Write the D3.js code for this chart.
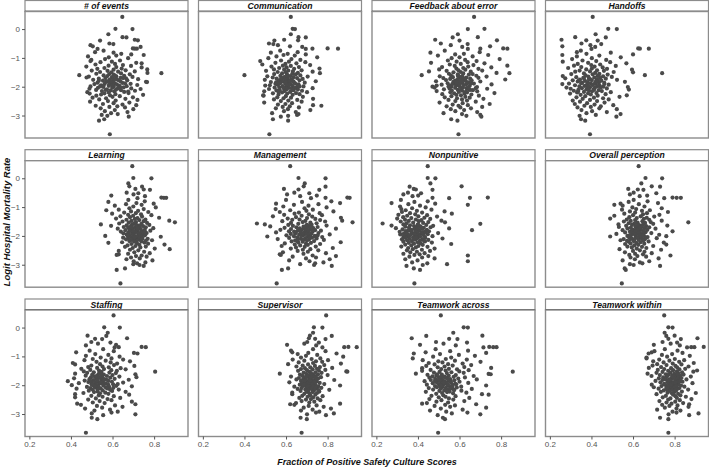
<!DOCTYPE html>
<html>
<head>
<meta charset="utf-8">
<script src="https://cdn.jsdelivr.net/npm/d3@7"></script>
<style>
html,body{margin:0;padding:0;background:#fff;}
svg{display:block;font-family:"Liberation Sans",Arial,sans-serif;}
</style>
</head>
<body>
<svg id="chart" width="709" height="467"></svg>
<script>
// ---------- DATA ----------
const panelNames = ["# of events","Communication","Feedback about error","Handoffs",
  "Learning","Management","Nonpunitive","Overall perception",
  "Staffing","Supervisor","Teamwork across","Teamwork within"];
const xTicks = [0.2, 0.4, 0.6, 0.8];
const yTicks = [0, -1, -2, -3];

// logit hospital mortality rate (shared by every panel)
const logitMortality = [
 0.42,0.01,0.00,-0.18,-0.28,-0.29,-0.37,-0.39,-0.40,-0.50,
 -0.52,-0.56,-0.60,-0.62,-0.67,-0.68,-0.68,-0.69,-0.75,-0.80,
 -0.82,-0.86,-0.88,-0.90,-0.92,-0.95,-0.98,-1.01,-1.04,-1.07,
 -1.09,-1.11,-1.13,-1.15,-1.17,-1.19,-1.21,-1.23,-1.25,-1.27,
 -1.28,-1.30,-1.32,-1.33,-1.35,-1.37,-1.38,-1.40,-1.41,-1.43,
 -1.44,-1.45,-1.47,-1.48,-1.49,-1.50,-1.52,-1.53,-1.54,-1.55,
 -1.56,-1.57,-1.58,-1.60,-1.61,-1.62,-1.63,-1.64,-1.65,-1.66,
 -1.67,-1.68,-1.69,-1.70,-1.71,-1.72,-1.73,-1.74,-1.75,-1.76,
 -1.77,-1.78,-1.79,-1.80,-1.81,-1.82,-1.83,-1.84,-1.85,-1.86,
 -1.87,-1.88,-1.89,-1.90,-1.91,-1.92,-1.93,-1.94,-1.95,-1.96,
 -1.97,-1.98,-1.99,-2.00,-2.01,-2.02,-2.03,-2.04,-2.05,-2.06,
 -2.07,-2.08,-2.09,-2.10,-2.11,-2.12,-2.13,-2.14,-2.15,-2.16,
 -2.18,-2.19,-2.20,-2.22,-2.23,-2.24,-2.26,-2.27,-2.28,-2.30,
 -2.31,-2.33,-2.35,-2.37,-2.38,-2.40,-2.42,-2.44,-2.46,-2.48,
 -2.50,-2.52,-2.55,-2.57,-2.60,-2.62,-2.64,-2.66,-2.68,-2.70,
 -2.72,-2.75,-2.78,-2.81,-2.85,-2.88,-2.92,-2.98,-3.01,-3.04,
 -3.13,-2.95,-3.18,-3.65,
 -1.74,-1.81,-1.88,-1.93,-1.97,-2.02,-1.79,-1.85,-2.05,-1.91,
 -1.70,-2.11,-1.62,-1.99,-2.17,-1.83];

// fraction of positive safety culture scores, one list per dimension
const xEvents = [
 0.647,0.614,0.696,0.580,0.648,0.667,0.707,0.722,0.540,0.585,
 0.604,0.494,0.505,0.735,0.698,0.707,0.717,0.528,0.557,0.516,
 0.605,0.642,0.690,0.750,0.618,0.482,0.582,0.675,0.564,0.498,
 0.636,0.494,0.597,0.542,0.714,0.740,0.612,0.518,0.650,0.581,
 0.689,0.474,0.618,0.740,0.561,0.644,0.527,0.767,0.605,0.663,
 0.500,0.576,0.707,0.627,0.540,0.594,0.768,0.835,0.641,0.522,
 0.584,0.683,0.606,0.440,0.557,0.656,0.575,0.618,0.486,0.696,
 0.597,0.475,0.639,0.566,0.665,0.534,0.605,0.723,0.587,0.507,
 0.627,0.671,0.554,0.602,0.638,0.570,0.761,0.766,0.590,0.528,
 0.647,0.611,0.563,0.687,0.513,0.621,0.594,0.719,0.545,0.632,
 0.582,0.668,0.494,0.606,0.555,0.654,0.599,0.530,0.627,0.690,
 0.489,0.735,0.573,0.617,0.521,0.641,0.591,0.708,0.549,0.608,
 0.656,0.479,0.582,0.677,0.561,0.490,0.614,0.545,0.747,0.588,
 0.522,0.635,0.600,0.698,0.504,0.569,0.662,0.536,0.720,0.615,
 0.578,0.492,0.681,0.605,0.554,0.648,0.714,0.519,0.623,0.585,
 0.660,0.543,0.700,0.611,0.563,0.672,0.593,0.548,0.575,0.678,
 0.560,0.625,0.535,0.587,
 0.618,0.575,0.660,0.596,0.557,0.638,0.534,0.605,0.627,0.584,
 0.651,0.567,0.612,0.540,0.675,0.593];
const xCommunication = [
 0.623,0.632,0.643,0.623,0.660,0.695,0.591,0.658,0.544,0.518,
 0.539,0.561,0.619,0.678,0.800,0.850,0.727,0.695,0.572,0.656,
 0.527,0.608,0.695,0.588,0.642,0.554,0.750,0.515,0.626,0.669,
 0.576,0.476,0.614,0.693,0.549,0.650,0.597,0.486,0.716,0.585,
 0.623,0.530,0.662,0.603,0.567,0.761,0.639,0.542,0.591,0.675,
 0.611,0.504,0.633,0.728,0.560,0.599,0.657,0.763,0.581,0.630,
 0.543,0.647,0.605,0.400,0.669,0.573,0.621,0.510,0.704,0.594,
 0.636,0.536,0.587,0.653,0.608,0.555,0.680,0.576,0.627,0.498,
 0.602,0.665,0.564,0.618,0.743,0.582,0.636,0.527,0.611,0.690,
 0.573,0.644,0.596,0.549,0.623,0.660,0.560,0.609,0.522,0.500,
 0.632,0.584,0.684,0.602,0.567,0.650,0.545,0.615,0.728,0.590,
 0.629,0.518,0.603,0.657,0.570,0.636,0.554,0.677,0.593,0.495,
 0.620,0.701,0.581,0.648,0.537,0.606,0.665,0.564,0.632,0.490,
 0.492,0.599,0.681,0.558,0.624,0.588,0.730,0.542,0.654,0.611,
 0.575,0.675,0.495,0.629,0.597,0.561,0.730,0.770,0.618,0.584,
 0.662,0.551,0.609,0.717,0.590,0.647,0.533,0.653,0.610,0.575,
 0.537,0.660,0.610,0.520,
 0.597,0.635,0.569,0.615,0.656,0.587,0.621,0.552,0.641,0.603,
 0.578,0.630,0.609,0.665,0.564,0.597];
const xFeedback = [
 0.670,0.720,0.640,0.592,0.688,0.567,0.483,0.780,0.600,0.510,
 0.639,0.558,0.747,0.613,0.810,0.830,0.700,0.640,0.529,0.697,
 0.460,0.621,0.579,0.738,0.496,0.663,0.600,0.562,0.793,0.627,
 0.544,0.682,0.586,0.639,0.463,0.720,0.606,0.553,0.667,0.830,
 0.577,0.642,0.516,0.753,0.618,0.585,0.691,0.502,0.628,0.595,
 0.709,0.538,0.453,0.654,0.606,0.571,0.778,0.840,0.618,0.549,
 0.663,0.592,0.645,0.418,0.559,0.681,0.613,0.505,0.730,0.600,
 0.568,0.633,0.691,0.522,0.609,0.651,0.555,0.592,0.820,0.619,
 0.535,0.658,0.580,0.630,0.487,0.700,0.606,0.570,0.642,0.589,
 0.613,0.543,0.669,0.576,0.633,0.754,0.514,0.621,0.586,0.490,
 0.649,0.600,0.561,0.470,0.684,0.616,0.480,0.579,0.633,0.552,
 0.733,0.607,0.525,0.646,0.592,0.664,0.563,0.613,0.490,0.685,
 0.597,0.556,0.636,0.768,0.574,0.624,0.517,0.657,0.585,0.607,
 0.693,0.561,0.628,0.529,0.649,0.588,0.715,0.612,0.547,0.636,
 0.580,0.678,0.504,0.615,0.745,0.567,0.640,0.595,0.538,0.709,
 0.604,0.655,0.558,0.622,0.580,0.685,0.523,0.700,0.633,0.705,
 0.560,0.612,0.590,0.595,
 0.625,0.574,0.657,0.600,0.553,0.642,0.609,0.586,0.678,0.565,
 0.618,0.651,0.592,0.547,0.631,0.604];
const xHandoffs = [
 0.406,0.481,0.522,0.420,0.322,0.469,0.256,0.375,0.430,0.352,
 0.447,0.395,0.260,0.418,0.625,0.633,0.676,0.400,0.349,0.330,
 0.493,0.376,0.600,0.260,0.438,0.330,0.541,0.402,0.307,0.471,
 0.357,0.423,0.262,0.490,0.384,0.568,0.334,0.442,0.399,0.316,
 0.517,0.415,0.351,0.454,0.288,0.402,0.475,0.375,0.595,0.427,
 0.343,0.460,0.393,0.322,0.507,0.600,0.418,0.740,0.364,0.438,
 0.303,0.406,0.478,0.657,0.372,0.430,0.262,0.456,0.385,0.498,
 0.327,0.414,0.361,0.442,0.274,0.469,0.388,0.427,0.345,0.523,
 0.402,0.310,0.448,0.369,0.423,0.334,0.561,0.382,0.436,0.355,
 0.462,0.396,0.292,0.420,0.260,0.379,0.483,0.406,0.321,0.439,
 0.367,0.429,0.342,0.457,0.575,0.393,0.280,0.417,0.354,0.474,
 0.300,0.411,0.376,0.580,0.337,0.435,0.388,0.315,0.450,0.403,
 0.364,0.493,0.331,0.424,0.384,0.297,0.468,0.397,0.348,0.570,
 0.430,0.370,0.535,0.328,0.412,0.456,0.358,0.483,0.393,0.310,
 0.427,0.345,0.463,0.379,0.320,0.415,0.505,0.366,0.445,0.397,
 0.333,0.438,0.522,0.352,0.403,0.474,0.376,0.421,0.343,0.520,
 0.350,0.540,0.370,0.393,
 0.393,0.432,0.351,0.406,0.375,0.445,0.339,0.418,0.384,0.462,
 0.364,0.412,0.435,0.388,0.336,0.423];
const xLearning = [
 0.695,0.700,0.787,0.676,0.681,0.742,0.710,0.750,0.780,0.668,
 0.724,0.701,0.594,0.756,0.835,0.847,0.858,0.720,0.676,0.755,
 0.580,0.715,0.798,0.665,0.740,0.611,0.700,0.808,0.681,0.750,
 0.630,0.570,0.723,0.689,0.772,0.656,0.712,0.598,0.737,0.675,
 0.787,0.699,0.638,0.742,0.684,0.824,0.720,0.617,0.707,0.758,
 0.667,0.729,0.873,0.691,0.750,0.648,0.713,0.900,0.678,0.766,
 0.704,0.632,0.739,0.544,0.694,0.777,0.668,0.724,0.593,0.747,
 0.688,0.731,0.654,0.760,0.708,0.675,0.796,0.697,0.625,0.736,
 0.716,0.683,0.755,0.662,0.721,0.782,0.692,0.742,0.640,0.712,
 0.737,0.678,0.705,0.764,0.652,0.723,0.694,0.747,0.668,0.726,
 0.702,0.756,0.680,0.565,0.734,0.713,0.832,0.689,0.720,0.651,
 0.744,0.699,0.675,0.769,0.710,0.665,0.729,0.692,0.790,0.716,
 0.681,0.739,0.704,0.646,0.753,0.580,0.718,0.771,0.691,0.850,
 0.729,0.672,0.710,0.760,0.660,0.734,0.697,0.803,0.875,0.684,
 0.724,0.630,0.752,0.705,0.779,0.675,0.630,0.620,0.740,0.713,
 0.764,0.689,0.731,0.667,0.792,0.702,0.758,0.700,0.730,0.750,
 0.660,0.718,0.620,0.638,
 0.720,0.696,0.745,0.676,0.732,0.710,0.686,0.755,0.705,0.728,
 0.691,0.742,0.713,0.672,0.760,0.700];
const xManagement = [
 0.620,0.660,0.790,0.690,0.685,0.790,0.590,0.660,0.760,0.640,
 0.712,0.605,0.748,0.668,0.895,0.906,0.790,0.720,0.600,0.818,
 0.677,0.860,0.552,0.756,0.638,0.708,0.587,0.795,0.689,0.550,
 0.729,0.620,0.698,0.828,0.570,0.662,0.762,0.641,0.710,0.591,
 0.773,0.675,0.537,0.726,0.648,0.864,0.701,0.608,0.741,0.665,
 0.630,0.764,0.870,0.693,0.582,0.788,0.680,0.920,0.717,0.624,
 0.747,0.460,0.659,0.498,0.723,0.611,0.698,0.795,0.633,0.711,
 0.524,0.684,0.752,0.650,0.702,0.593,0.731,0.666,0.840,0.624,
 0.716,0.677,0.573,0.740,0.657,0.768,0.695,0.614,0.728,0.669,
 0.705,0.552,0.687,0.756,0.645,0.722,0.623,0.690,0.810,0.663,
 0.716,0.602,0.681,0.738,0.638,0.510,0.704,0.774,0.654,0.725,
 0.615,0.693,0.747,0.672,0.560,0.711,0.686,0.782,0.644,0.701,
 0.735,0.627,0.680,0.863,0.659,0.720,0.594,0.696,0.764,0.642,
 0.705,0.668,0.579,0.743,0.690,0.648,0.825,0.623,0.717,0.681,
 0.755,0.656,0.705,0.585,0.792,0.684,0.570,0.575,0.728,0.840,
 0.632,0.744,0.696,0.810,0.615,0.713,0.780,0.668,0.735,0.820,
 0.610,0.740,0.580,0.555,
 0.687,0.726,0.647,0.704,0.671,0.738,0.696,0.639,0.714,0.680,
 0.723,0.660,0.701,0.752,0.650,0.707];
const xNonpunitive = [
 0.447,0.447,0.484,0.460,0.610,0.360,0.380,0.390,0.470,0.352,
 0.415,0.330,0.401,0.374,0.736,0.650,0.470,0.550,0.318,0.447,
 0.383,0.273,0.483,0.354,0.640,0.410,0.314,0.437,0.372,0.320,
 0.465,0.341,0.395,0.528,0.323,0.420,0.362,0.563,0.387,0.306,
 0.444,0.348,0.402,0.492,0.329,0.431,0.368,0.300,0.459,0.390,
 0.338,0.417,0.513,0.356,0.404,0.317,0.450,0.530,0.377,0.425,
 0.345,0.230,0.700,0.330,0.399,0.440,0.362,0.273,0.473,0.381,
 0.411,0.339,0.393,0.461,0.357,0.428,0.294,0.550,0.384,0.420,
 0.326,0.401,0.443,0.660,0.365,0.407,0.342,0.453,0.390,0.312,
 0.432,0.369,0.398,0.497,0.333,0.416,0.380,0.447,0.315,0.404,
 0.363,0.428,0.338,0.390,0.470,0.354,0.408,0.330,0.377,0.435,
 0.341,0.396,0.518,0.359,0.422,0.323,0.387,0.450,0.348,0.410,
 0.371,0.434,0.330,0.399,0.467,0.356,0.413,0.381,0.560,0.339,
 0.423,0.368,0.402,0.320,0.446,0.390,0.353,0.480,0.375,0.419,
 0.347,0.458,0.395,0.363,0.432,0.330,0.408,0.383,0.640,0.450,
 0.359,0.420,0.480,0.339,0.398,0.640,0.372,0.540,0.423,0.345,
 0.380,0.445,0.410,0.383,
 0.396,0.354,0.422,0.383,0.333,0.410,0.369,0.435,0.392,0.347,
 0.416,0.378,0.402,0.359,0.429,0.387];
const xOverall = [
 0.627,0.660,0.740,0.640,0.690,0.730,0.577,0.623,0.650,0.603,
 0.712,0.585,0.668,0.632,0.790,0.810,0.830,0.750,0.603,0.670,
 0.579,0.720,0.540,0.628,0.510,0.550,0.655,0.597,0.738,0.615,
 0.547,0.681,0.643,0.585,0.768,0.610,0.667,0.558,0.648,0.727,
 0.600,0.510,0.637,0.702,0.582,0.666,0.618,0.490,0.652,0.570,
 0.678,0.610,0.738,0.589,0.645,0.556,0.685,0.866,0.622,0.658,
 0.579,0.606,0.697,0.530,0.648,0.595,0.631,0.765,0.567,0.663,
 0.612,0.642,0.532,0.678,0.624,0.589,0.655,0.573,0.708,0.615,
 0.637,0.598,0.669,0.550,0.627,0.606,0.648,0.790,0.585,0.619,
 0.660,0.562,0.633,0.688,0.601,0.625,0.520,0.646,0.609,0.726,
 0.591,0.630,0.652,0.573,0.760,0.490,0.613,0.670,0.634,0.582,
 0.621,0.714,0.595,0.643,0.555,0.657,0.607,0.628,0.540,0.649,
 0.603,0.675,0.579,0.636,0.748,0.616,0.588,0.654,0.562,0.760,
 0.625,0.606,0.697,0.573,0.643,0.594,0.664,0.618,0.535,0.735,
 0.633,0.600,0.655,0.561,0.690,0.610,0.648,0.582,0.780,0.621,
 0.663,0.588,0.723,0.609,0.550,0.678,0.633,0.585,0.603,0.730,
 0.560,0.645,0.565,0.546,
 0.628,0.601,0.651,0.615,0.585,0.640,0.619,0.594,0.660,0.607,
 0.634,0.588,0.624,0.648,0.571,0.613];
const xStaffing = [
 0.605,0.560,0.635,0.577,0.480,0.570,0.670,0.516,0.550,0.498,
 0.590,0.530,0.617,0.472,0.740,0.760,0.630,0.610,0.555,0.490,
 0.606,0.425,0.703,0.720,0.517,0.580,0.472,0.634,0.543,0.595,
 0.505,0.651,0.465,0.567,0.684,0.523,0.591,0.409,0.622,0.540,
 0.420,0.607,0.498,0.705,0.552,0.483,0.582,0.526,0.639,0.450,
 0.559,0.663,0.493,0.594,0.535,0.621,0.462,0.805,0.547,0.510,
 0.585,0.478,0.616,0.420,0.534,0.710,0.558,0.502,0.600,0.528,
 0.471,0.573,0.514,0.633,0.550,0.715,0.496,0.589,0.540,0.415,
 0.522,0.610,0.489,0.561,0.678,0.508,0.547,0.466,0.580,0.385,
 0.528,0.597,0.484,0.555,0.651,0.516,0.438,0.568,0.537,0.625,
 0.499,0.579,0.523,0.404,0.556,0.618,0.510,0.693,0.532,0.477,
 0.567,0.519,0.604,0.493,0.543,0.427,0.586,0.529,0.630,0.505,
 0.553,0.486,0.598,0.528,0.663,0.511,0.565,0.460,0.540,0.580,
 0.420,0.680,0.534,0.498,0.606,0.552,0.420,0.637,0.520,0.576,
 0.483,0.595,0.538,0.693,0.505,0.562,0.430,0.710,0.448,0.612,
 0.525,0.648,0.550,0.468,0.588,0.513,0.625,0.500,0.710,0.555,
 0.500,0.595,0.527,0.472,
 0.532,0.571,0.501,0.549,0.603,0.514,0.558,0.492,0.583,0.541,
 0.520,0.574,0.544,0.504,0.591,0.526];
const xSupervisor = [
 0.793,0.734,0.775,0.730,0.715,0.820,0.710,0.740,0.790,0.702,
 0.758,0.688,0.605,0.745,0.900,0.940,0.880,0.775,0.730,0.624,
 0.790,0.630,0.707,0.843,0.656,0.750,0.696,0.875,0.672,0.765,
 0.723,0.632,0.802,0.688,0.744,0.774,0.661,0.730,0.864,0.610,
 0.706,0.784,0.680,0.739,0.650,0.763,0.717,0.822,0.691,0.749,
 0.672,0.728,0.789,0.701,0.758,0.658,0.890,0.895,0.714,0.741,
 0.685,0.771,0.720,0.570,0.698,0.754,0.667,0.730,0.800,0.709,
 0.678,0.744,0.702,0.624,0.733,0.768,0.690,0.718,0.662,0.755,
 0.712,0.683,0.741,0.650,0.723,0.832,0.696,0.736,0.672,0.714,
 0.747,0.688,0.726,0.616,0.706,0.762,0.677,0.734,0.701,0.784,
 0.715,0.666,0.742,0.693,0.860,0.722,0.680,0.755,0.640,0.710,
 0.733,0.698,0.770,0.675,0.717,0.746,0.656,0.725,0.693,0.808,
 0.707,0.734,0.670,0.760,0.699,0.728,0.630,0.749,0.712,0.688,
 0.630,0.741,0.717,0.678,0.776,0.704,0.731,0.664,0.752,0.720,
 0.696,0.765,0.675,0.736,0.712,0.648,0.860,0.620,0.640,0.747,
 0.709,0.781,0.685,0.816,0.728,0.672,0.760,0.830,0.701,0.792,
 0.670,0.744,0.700,0.675,
 0.718,0.694,0.738,0.682,0.726,0.706,0.749,0.690,0.731,0.710,
 0.698,0.741,0.720,0.685,0.757,0.714];
const xTeamAcross = [
 0.510,0.620,0.640,0.570,0.710,0.440,0.370,0.550,0.590,0.487,
 0.636,0.523,0.410,0.582,0.743,0.762,0.778,0.715,0.485,0.641,
 0.555,0.437,0.728,0.380,0.506,0.597,0.674,0.473,0.560,0.375,
 0.534,0.635,0.423,0.578,0.498,0.701,0.518,0.452,0.615,0.545,
 0.480,0.656,0.567,0.440,0.528,0.623,0.495,0.752,0.420,0.549,
 0.512,0.588,0.461,0.644,0.533,0.420,0.599,0.856,0.504,0.561,
 0.477,0.620,0.539,0.390,0.740,0.750,0.515,0.446,0.582,0.489,
 0.548,0.668,0.470,0.528,0.572,0.501,0.626,0.455,0.540,0.509,
 0.594,0.483,0.555,0.683,0.519,0.462,0.575,0.497,0.548,0.432,
 0.530,0.600,0.488,0.558,0.512,0.642,0.471,0.537,0.579,0.498,
 0.524,0.443,0.566,0.545,0.728,0.506,0.482,0.555,0.608,0.518,
 0.491,0.587,0.534,0.452,0.561,0.510,0.659,0.543,0.473,0.575,
 0.527,0.609,0.503,0.552,0.438,0.540,0.633,0.516,0.569,0.488,
 0.708,0.740,0.522,0.465,0.581,0.533,0.500,0.647,0.549,0.455,
 0.570,0.513,0.623,0.489,0.545,0.443,0.420,0.680,0.531,0.578,
 0.480,0.555,0.728,0.510,0.615,0.458,0.536,0.563,0.700,0.495,
 0.520,0.638,0.530,0.497,
 0.534,0.500,0.558,0.521,0.584,0.509,0.546,0.482,0.566,0.525,
 0.515,0.554,0.492,0.542,0.573,0.504];
const xTeamWithin = [
 0.750,0.770,0.790,0.752,0.800,0.760,0.910,0.770,0.830,0.742,
 0.812,0.781,0.700,0.825,0.940,0.895,0.880,0.860,0.753,0.814,
 0.703,0.690,0.838,0.675,0.788,0.739,0.873,0.764,0.665,0.665,
 0.801,0.726,0.846,0.775,0.697,0.822,0.747,0.892,0.791,0.716,
 0.833,0.761,0.694,0.804,0.867,0.735,0.812,0.676,0.783,0.851,
 0.750,0.823,0.719,0.793,0.908,0.769,0.811,0.890,0.742,0.836,
 0.780,0.713,0.817,0.670,0.798,0.758,0.843,0.771,0.729,0.827,
 0.788,0.689,0.807,0.878,0.763,0.819,0.745,0.796,0.833,0.724,
 0.785,0.814,0.755,0.857,0.803,0.742,0.825,0.777,0.708,0.806,
 0.766,0.838,0.791,0.732,0.811,0.771,0.886,0.793,0.751,0.819,
 0.780,0.690,0.804,0.759,0.831,0.788,0.737,0.809,0.847,0.774,
 0.700,0.798,0.761,0.823,0.783,0.723,0.812,0.763,0.865,0.790,
 0.748,0.807,0.777,0.835,0.734,0.799,0.766,0.902,0.787,0.817,
 0.713,0.793,0.828,0.758,0.804,0.854,0.743,0.811,0.780,0.881,
 0.769,0.825,0.727,0.803,0.761,0.841,0.785,0.870,0.740,0.814,
 0.775,0.867,0.753,0.809,0.716,0.828,0.790,0.915,0.771,0.870,
 0.730,0.809,0.770,0.770,
 0.796,0.772,0.822,0.785,0.750,0.807,0.779,0.827,0.767,0.803,
 0.790,0.761,0.814,0.782,0.801,0.775];

const xSeries = [xEvents, xCommunication, xFeedback, xHandoffs,
  xLearning, xManagement, xNonpunitive, xOverall,
  xStaffing, xSupervisor, xTeamAcross, xTeamWithin];

// ---------- LAYOUT ----------
const svg = d3.select("#chart");
const colLeft = [25, 198.5, 372, 545.5];
const rowTop = [0.5, 149.7, 299];
const panelW = 163, stripH = 11, plotH = 126.5;
const borderCol = "#8c8c8c", axisTextCol = "#555", dotCol = "#4a4a4a";

const x = d3.scaleLinear().domain([0.179, 0.963]).range([0, panelW]);
const y = d3.scaleLinear().domain([-3.78, 0.61]).range([plotH, 0]);

panelNames.forEach((name, i) => {
  const c = i % 4, r = Math.floor(i / 4);
  const g = svg.append("g").attr("transform", `translate(${colLeft[c]},${rowTop[r]})`);
  g.append("rect").attr("x", 0).attr("y", 0).attr("width", panelW).attr("height", stripH)
    .attr("fill", "#fff").attr("stroke", borderCol).attr("stroke-width", 1.2);
  g.append("line").attr("x1", 0).attr("x2", panelW).attr("y1", stripH).attr("y2", stripH)
    .attr("stroke", "#222").attr("stroke-width", 1.3);
  g.append("text").attr("x", panelW / 2).attr("y", stripH - 2.2)
    .attr("text-anchor", "middle").attr("font-size", 8.6).attr("font-weight", "bold")
    .attr("font-style", "italic").attr("fill", "#111").text(name);

  const p = g.append("g").attr("transform", `translate(0,${stripH})`);
  p.append("rect").attr("x", 0).attr("y", 0).attr("width", panelW).attr("height", plotH)
    .attr("fill", "#fff").attr("stroke", borderCol).attr("stroke-width", 1.4);

  const xs = xSeries[i];
  p.selectAll("circle").data(logitMortality.map((v, k) => [xs[k], v]))
    .join("circle")
    .attr("cx", d => x(d[0])).attr("cy", d => y(d[1])).attr("r", 2.1)
    .attr("fill", dotCol);

  if (c === 0) {
    const ya = p.append("g").call(d3.axisLeft(y).tickValues(yTicks).tickSize(3).tickPadding(2)
      .tickFormat(d3.format("d")));
    ya.select(".domain").remove();
    ya.selectAll("line").attr("stroke", axisTextCol);
    ya.selectAll("text").attr("fill", axisTextCol).attr("font-size", 8)
      .attr("font-family", '"Liberation Sans",Arial,sans-serif');
  }
  if (r === 2) {
    const xa = p.append("g").attr("transform", `translate(0,${plotH})`)
      .call(d3.axisBottom(x).tickValues(xTicks).tickSize(3).tickPadding(2)
      .tickFormat(d3.format(".1f")));
    xa.select(".domain").remove();
    xa.selectAll("line").attr("stroke", axisTextCol);
    xa.selectAll("text").attr("fill", axisTextCol).attr("font-size", 8)
      .attr("font-family", '"Liberation Sans",Arial,sans-serif');
  }
});

svg.append("text").attr("x", 367).attr("y", 465).attr("text-anchor", "middle")
  .attr("font-size", 9).attr("font-weight", "bold").attr("font-style", "italic")
  .attr("fill", "#111").text("Fraction of Positive Safety Culture Scores");
svg.append("text").attr("transform", "translate(10,222) rotate(-90)").attr("text-anchor", "middle")
  .attr("font-size", 9.5).attr("font-weight", "bold").attr("font-style", "italic")
  .attr("fill", "#111").text("Logit Hospital Mortality Rate");
</script>
</body>
</html>
